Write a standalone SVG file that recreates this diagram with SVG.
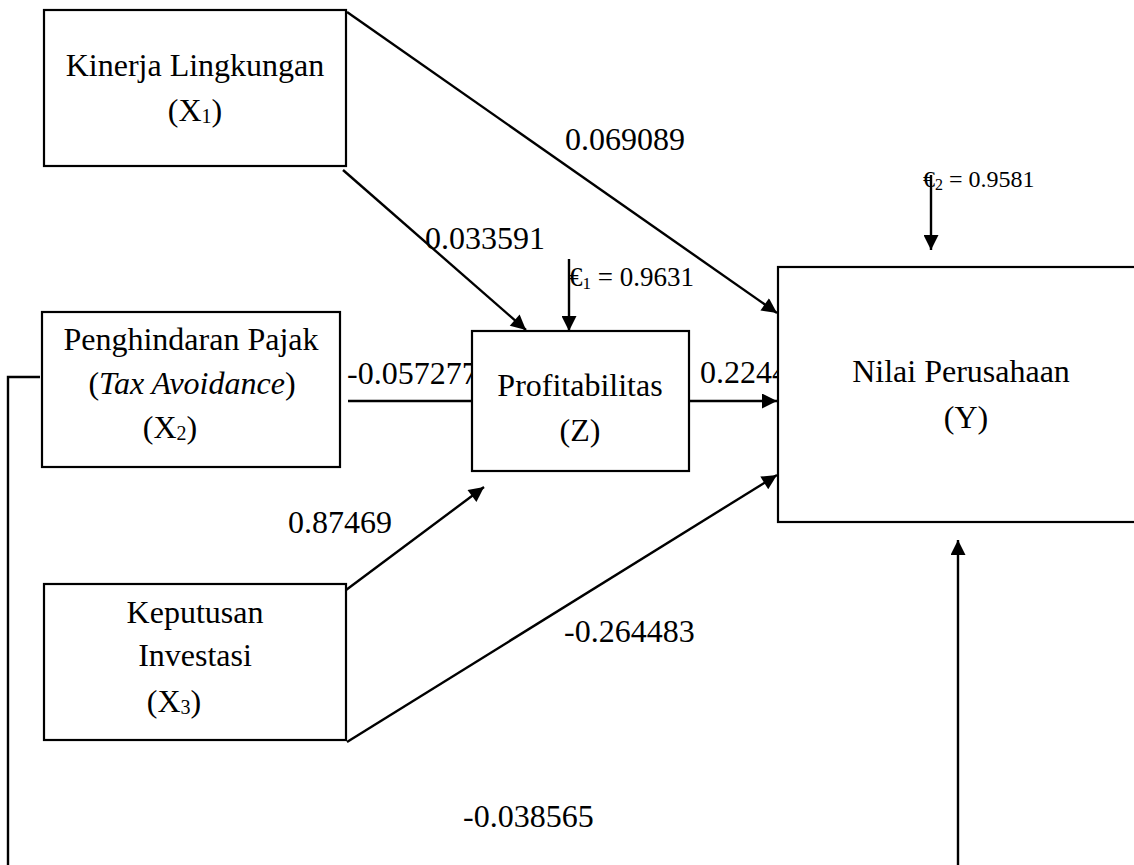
<svg xmlns="http://www.w3.org/2000/svg" width="1134" height="865" viewBox="0 0 1134 865">
<style>
text { font-family: "Liberation Serif", "Times New Roman", serif; fill: #000; }
.t { font-size: 32px; }
.c { text-anchor: middle; }
.box { fill: #fff; stroke: #000; stroke-width: 2.2; }
.ln { fill: none; stroke: #000; stroke-width: 2.4; }
.sub { font-size: 20px; }
</style>
<defs>
<marker id="ah" viewBox="0 0 10 10" refX="10" refY="5" markerWidth="17" markerHeight="15" markerUnits="userSpaceOnUse" orient="auto">
<path d="M0,0 L10,5 L0,10 z" fill="#000"/>
</marker>
</defs>
<g id="connectors">
<line class="ln" x1="347" y1="12" x2="777" y2="313" marker-end="url(#ah)"/>
<line class="ln" x1="343" y1="170" x2="526" y2="330" marker-end="url(#ah)"/>
<line class="ln" x1="569" y1="259" x2="569" y2="331" marker-end="url(#ah)"/>
<line class="ln" x1="348" y1="401" x2="472" y2="401"/>
<line class="ln" x1="689" y1="401" x2="777" y2="401" marker-end="url(#ah)"/>
<line class="ln" x1="338" y1="596" x2="484" y2="487" marker-end="url(#ah)"/>
<line class="ln" x1="347" y1="742" x2="777" y2="475" marker-end="url(#ah)"/>
<line class="ln" x1="931" y1="175" x2="931" y2="250" marker-end="url(#ah)"/>
<polyline class="ln" points="40,377 8,377 8,880"/>
<line class="ln" x1="958" y1="880" x2="958" y2="540" marker-end="url(#ah)"/>
</g>
<g id="labels">
<text class="t" x="565" y="150">0.069089</text>
<text class="t" x="425" y="249">0.033591</text>
<text x="569" y="286" font-size="27">€<tspan font-size="17" dy="3">1</tspan><tspan dy="-3"> = 0.9631</tspan></text>
<text x="923" y="187" font-size="24">€<tspan font-size="16" dy="3">2</tspan><tspan dy="-3"> = 0.9581</tspan></text>
<text class="t" x="347" y="384">-0.057277</text>
<text class="t" x="700" y="383">0.2244</text>
<text class="t" x="288" y="533">0.87469</text>
<text class="t" x="564" y="642">-0.264483</text>
<text class="t" x="463" y="827">-0.038565</text>
</g>
<g id="node-x1">
<rect class="box" x="44" y="10" width="302" height="156"/>
<text class="t c" x="195" y="76">Kinerja Lingkungan</text>
<text class="t c" x="195" y="121">(X<tspan class="sub" dy="2">1</tspan><tspan dy="-2">)</tspan></text>
</g>
<g id="node-x2">
<rect class="box" x="42" y="312" width="298" height="155"/>
<text class="t c" x="191" y="350">Penghindaran Pajak</text>
<text class="t c" x="192" y="394">(<tspan font-style="italic">Tax Avoidance</tspan>)</text>
<text class="t c" x="170" y="438">(X<tspan class="sub" dy="2">2</tspan><tspan dy="-2">)</tspan></text>
</g>
<g id="node-x3">
<rect class="box" x="44" y="584" width="302" height="156"/>
<text class="t c" x="195" y="623">Keputusan</text>
<text class="t c" x="195" y="666">Investasi</text>
<text class="t c" x="174" y="712">(X<tspan class="sub" dy="2">3</tspan><tspan dy="-2">)</tspan></text>
</g>
<g id="node-z">
<rect class="box" x="472" y="331" width="217" height="140"/>
<text class="t c" x="580" y="396">Profitabilitas</text>
<text class="t c" x="580" y="441">(Z)</text>
</g>
<g id="node-y">
<rect class="box" x="778" y="267" width="400" height="255"/>
<text class="t c" x="961" y="382">Nilai Perusahaan</text>
<text class="t c" x="966" y="428">(Y)</text>
</g>
</svg>
